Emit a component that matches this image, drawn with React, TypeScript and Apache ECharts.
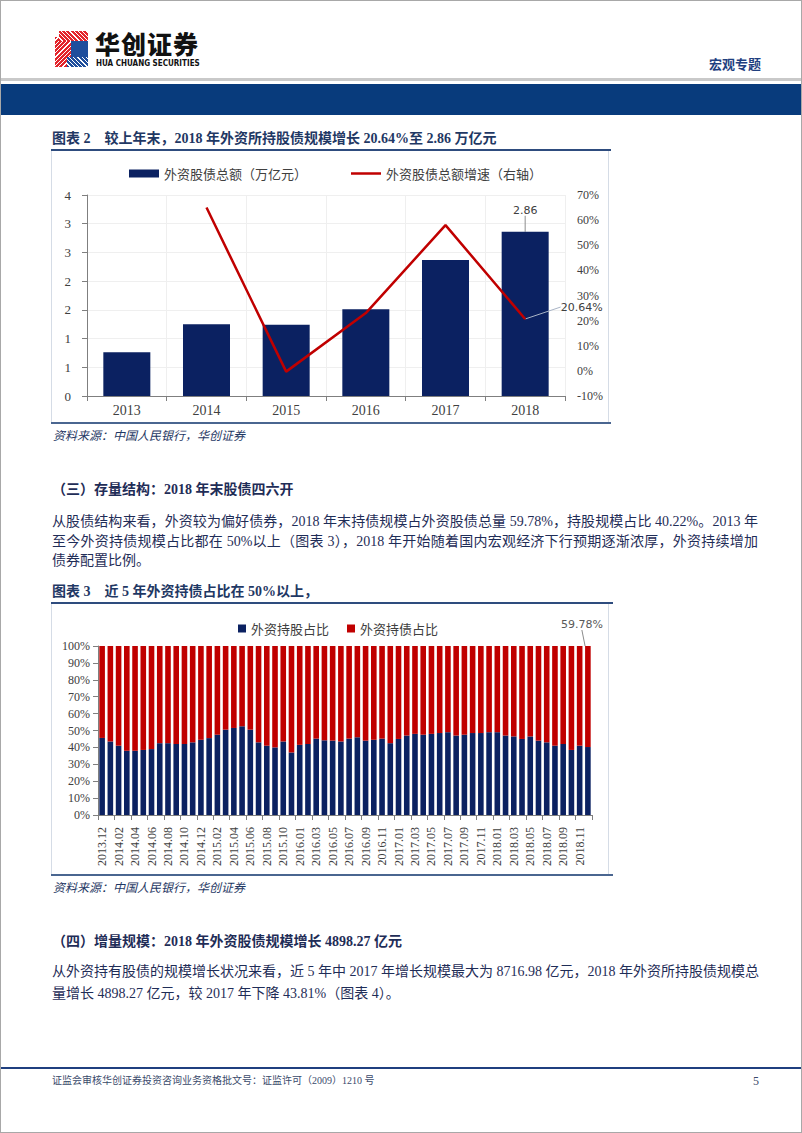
import React, { useEffect, useRef } from "react";
import * as echarts from "echarts";

// ---------- Data: 图表 2 ----------
const years = ["2013", "2014", "2015", "2016", "2017", "2018"];
const holdingsTotal = [0.76, 1.25, 1.24, 1.51, 2.37, 2.86]; // 外资股债总额（万亿元）
const holdingsGrowth = ["-", 65.0, -0.3, 23.0, 58.0, 20.64]; // 外资股债总额增速（%）

// ---------- Data: 图表 3 ----------
const months = [
  "2013.12",
  "2014.01", "2014.02", "2014.03", "2014.04", "2014.05", "2014.06",
  "2014.07", "2014.08", "2014.09", "2014.10", "2014.11", "2014.12",
  "2015.01", "2015.02", "2015.03", "2015.04", "2015.05", "2015.06",
  "2015.07", "2015.08", "2015.09", "2015.10", "2015.11",
  "2016.01", "2016.02", "2016.03", "2016.04", "2016.05", "2016.06",
  "2016.07", "2016.08", "2016.09", "2016.10", "2016.11", "2016.12",
  "2017.01", "2017.02", "2017.03", "2017.04", "2017.05", "2017.06",
  "2017.07", "2017.08", "2017.09", "2017.10", "2017.11", "2017.12",
  "2018.01", "2018.02", "2018.03", "2018.04", "2018.05", "2018.06",
  "2018.07", "2018.08", "2018.09", "2018.10", "2018.11", "2018.12",
];
const stockShare = [
  45.6, 43.5, 41.0, 38.0, 38.0, 38.5, 39.0, 42.5, 42.5, 42.0,
  42.0, 43.0, 44.5, 45.5, 47.5, 50.5, 51.5, 52.5, 50.5, 43.0,
  41.0, 40.0, 43.5, 37.0, 41.5, 42.0, 45.2, 44.2, 44.0, 43.5,
  45.2, 46.0, 44.0, 44.5, 45.2, 42.5, 45.0, 47.0, 48.0, 47.5,
  48.0, 48.5, 49.0, 47.0, 47.5, 48.5, 48.5, 49.0, 49.0, 47.0,
  46.5, 45.0, 46.5, 44.0, 43.0, 41.0, 42.0, 38.5, 41.0, 40.22,
];
const bondShare = [
  54.4, 56.5, 59.0, 62.0, 62.0, 61.5, 61.0, 57.5, 57.5, 58.0,
  58.0, 57.0, 55.5, 54.5, 52.5, 49.5, 48.5, 47.5, 49.5, 57.0,
  59.0, 60.0, 56.5, 63.0, 58.5, 58.0, 54.8, 55.8, 56.0, 56.5,
  54.8, 54.0, 56.0, 55.5, 54.8, 57.5, 55.0, 53.0, 52.0, 52.5,
  52.0, 51.5, 51.0, 53.0, 52.5, 51.5, 51.5, 51.0, 51.0, 53.0,
  53.5, 55.0, 53.5, 56.0, 57.0, 59.0, 58.0, 61.5, 59.0, 59.78,
];

// ---------- Styles ----------
const SERIF = "'Liberation Serif', 'Noto Sans CJK SC', serif";
const CJK = "'Noto Sans CJK SC', sans-serif";
const LABEL_SANS = "'DejaVu Sans', sans-serif";
const NAVY = "#0B2161";
const RED = "#C00000";
const TEXT = "#1F2D57";
const TITLE = "#1F3864";
const AXIS = "#7F7F7F";
const TICK_TEXT = "#404040";

function EChart({ option, style }: { option: any; style: React.CSSProperties }) {
  const ref = useRef<HTMLDivElement>(null);
  useEffect(() => {
    const chart = echarts.init(ref.current as HTMLDivElement, null, { renderer: "svg" });
    chart.setOption(option);
    return () => chart.dispose();
  }, []);
  return <div ref={ref} style={style} />;
}

const lastIdx = (arr: any[]) => arr.length - 1;

const option2 = {
  animation: false,
  textStyle: { fontFamily: SERIF },
  legend: {
    left: 72,
    top: 10,
    itemGap: 44,
    itemWidth: 30,
    itemHeight: 8,
    textStyle: { fontFamily: CJK, fontSize: 13, color: TICK_TEXT },
    data: [
      { name: "外资股债总额（万亿元）", icon: "rect" },
      { name: "外资股债总额增速（右轴）", icon: "path://M0,0H30V2.5H0Z" },
    ],
  },
  grid: { left: 35, right: 43, top: 43, bottom: 26 },
  xAxis: {
    type: "category",
    data: years,
    axisLine: { lineStyle: { color: AXIS } },
    axisTick: { show: true, lineStyle: { color: AXIS } },
    axisLabel: { fontFamily: SERIF, fontSize: 14, color: TICK_TEXT, margin: 7 },
    splitLine: { show: true, lineStyle: { color: "#EFEFEF" } },
  },
  yAxis: [
    {
      type: "value",
      min: 0,
      max: 3.5,
      interval: 0.5,
      axisLine: { show: true, lineStyle: { color: AXIS } },
      axisTick: { show: true, lineStyle: { color: AXIS } },
      axisLabel: {
        fontFamily: SERIF,
        fontSize: 13,
        color: TICK_TEXT,
        margin: 16,
        formatter: (v: number) => String(Math.round(v)),
      },
      splitLine: { show: true, lineStyle: { color: "#EFEFEF" } },
    },
    {
      type: "value",
      position: "right",
      min: -10,
      max: 70,
      interval: 10,
      axisLine: { show: false },
      axisTick: { show: false },
      axisLabel: { fontFamily: SERIF, fontSize: 12, color: TICK_TEXT, margin: 12, formatter: "{value}%" },
      splitLine: { show: false },
    },
  ],
  series: [
    {
      name: "外资股债总额（万亿元）",
      type: "bar",
      barWidth: "59%",
      itemStyle: { color: NAVY },
      data: holdingsTotal.map((v, i) =>
        i === lastIdx(holdingsTotal) ? { value: v, label: { show: true } } : v
      ),
      label: {
        show: false,
        position: "top",
        distance: 4,
        fontFamily: LABEL_SANS,
        fontSize: 11,
        color: TICK_TEXT,
      },
      labelLayout: { dy: -12 },
      labelLine: { show: true, lineStyle: { color: "#8C8C8C", width: 1 } },
    },
    {
      name: "外资股债总额增速（右轴）",
      type: "line",
      yAxisIndex: 1,
      symbol: "none",
      lineStyle: { color: RED, width: 2.5 },
      itemStyle: { color: RED },
      data: holdingsGrowth.map((v, i) =>
        i === lastIdx(holdingsGrowth)
          ? { value: v, symbol: "circle", symbolSize: 1, label: { show: true } }
          : v
      ),
      label: {
        show: false,
        position: "right",
        fontFamily: LABEL_SANS,
        fontSize: 11,
        color: TICK_TEXT,
        formatter: "{c}%",
      },
      labelLayout: { dx: 30, dy: -12 },
      labelLine: { show: true, lineStyle: { color: "#A9B4C6", width: 1 } },
    },
  ],
};

const option3 = {
  animation: false,
  textStyle: { fontFamily: SERIF },
  legend: {
    left: 181,
    top: 12,
    itemWidth: 8,
    itemHeight: 8,
    itemGap: 18,
    textStyle: { fontFamily: CJK, fontSize: 13, color: TICK_TEXT },
    data: [
      { name: "外资持股占比", icon: "rect" },
      { name: "外资持债占比", icon: "rect" },
    ],
  },
  grid: { left: 46, right: 16, top: 41, bottom: 58 },
  xAxis: {
    type: "category",
    data: months,
    axisLine: { lineStyle: { color: AXIS } },
    axisTick: { show: true, interval: 1, lineStyle: { color: AXIS } },
    axisLabel: { interval: 1, rotate: 90, fontFamily: SERIF, fontSize: 12, color: TICK_TEXT, margin: 12 },
  },
  yAxis: {
    type: "value",
    min: 0,
    max: 100,
    interval: 10,
    axisLine: { show: true, lineStyle: { color: AXIS } },
    axisTick: { show: true, lineStyle: { color: AXIS } },
    axisLabel: { fontFamily: SERIF, fontSize: 12, color: TICK_TEXT, margin: 8, formatter: "{value}%" },
    splitLine: { show: false },
  },
  series: [
    {
      name: "外资持股占比",
      type: "bar",
      stack: "share",
      barCategoryGap: "32%",
      itemStyle: { color: NAVY },
      data: stockShare,
    },
    {
      name: "外资持债占比",
      type: "bar",
      stack: "share",
      barCategoryGap: "32%",
      itemStyle: { color: RED },
      data: bondShare.map((v, i) =>
        i === lastIdx(bondShare) ? { value: v, label: { show: true } } : v
      ),
      label: {
        show: false,
        position: "top",
        fontFamily: LABEL_SANS,
        fontSize: 11,
        color: "#595959",
        formatter: "{c}%",
      },
      labelLayout: { dx: -6, dy: -11 },
      labelLine: { show: true, lineStyle: { color: "#8C8C8C", width: 1 } },
    },
  ],
};

function T({
  x, y, size = 14, bold = false, italic = false, color = TEXT, width, justify = false, family = SERIF, children,
}: any) {
  return (
    <div
      style={{
        position: "absolute",
        left: x,
        top: y - size / 2,
        fontSize: size,
        lineHeight: `${size}px`,
        fontWeight: bold ? 700 : 400,
        fontStyle: italic ? "italic" : "normal",
        color,
        fontFamily: family,
        whiteSpace: "nowrap",
        width: width,
        textAlign: justify ? "justify" : "left",
        textAlignLast: justify ? "justify" : "auto",
      } as React.CSSProperties}
    >
      {children}
    </div>
  );
}

function Rule({ x, y, w, h, color }: any) {
  return <div style={{ position: "absolute", left: x, top: y, width: w, height: h, background: color }} />;
}

export default function App() {
  return (
    <div
      style={{
        position: "absolute",
        left: 0,
        top: 0,
        width: 802,
        height: 1133,
        background: "#fff",
        overflow: "hidden",
        boxSizing: "border-box",
        border: "1px solid #A8A8A8",
        fontFamily: SERIF,
      }}
    >
      {/* Header logo */}
      <div
        style={{
          position: "absolute", left: 54, top: 36, width: 18, height: 30,
          background: "repeating-linear-gradient(135deg, #E3242B 0px, #E3242B 2px, #ffffff 2px, #ffffff 3px)",
        }}
      />
      <div style={{ position: "absolute", left: 58, top: 30, width: 29, height: 10, background: "repeating-linear-gradient(45deg, #E3242B 0px, #E3242B 2px, #ffffff 2px, #ffffff 3px)" }} />
      <div style={{ position: "absolute", left: 70, top: 40, width: 17, height: 16, background: "#1E4E9C" }} />
      <div style={{ position: "absolute", left: 66, top: 56, width: 21, height: 10, background: "repeating-linear-gradient(45deg, #1E4E9C 0px, #1E4E9C 2px, #ffffff 2px, #ffffff 3px)" }} />
      <div
        style={{
          position: "absolute", left: 94, top: 30, fontSize: 25, lineHeight: "25px",
          fontFamily: CJK, fontWeight: 900, color: "#111", letterSpacing: 1,
        }}
      >
        华创证券
      </div>
      <div
        style={{
          position: "absolute", left: 95, top: 59, fontSize: 8, lineHeight: "8px",
          fontFamily: "'DejaVu Sans Condensed', 'DejaVu Sans', sans-serif", fontWeight: 700, color: "#111",
        }}
      >
        HUA CHUANG SECURITIES
      </div>
      <T x={708} y={62} size={13} bold color="#1F3F7F" family={CJK}>宏观专题</T>
      <Rule x={0} y={77} w={802} h={3} color="#C9C9C9" />
      <Rule x={0} y={83} w={802} h={31} color="#083B7C" />

      {/* 图表 2 */}
      <T x={51} y={138} size={14} bold color={TITLE}>
        图表 2<span style={{ display: "inline-block", width: 14 }} />较上年末，2018 年外资所持股债规模增长 20.64%至 2.86 万亿元
      </T>
      <Rule x={50} y={148} w={560} h={2} color="#2E4C7E" />
      <div style={{ position: "absolute", left: 50, top: 150, width: 558, height: 271, boxSizing: "border-box", border: "1px solid #D5DCE6", borderTop: "none", borderBottom: "none" }} />
      <EChart option={option2} style={{ position: "absolute", left: 51, top: 151, width: 556, height: 270 }} />
      <Rule x={50} y={421} w={560} h={2} color="#4A6690" />
      <T x={52} y={434} size={12} italic color={TITLE} family={CJK}>资料来源：中国人民银行，华创证券</T>

      {/* (三) */}
      <T x={51} y={489} size={14} bold>（三）存量结构：2018 年末股债四六开</T>
      <T x={51} y={521} size={14} width={706} justify>
        从股债结构来看，外资较为偏好债券，2018 年末持债规模占外资股债总量 59.78%，持股规模占比 40.22%。2013 年
      </T>
      <T x={51} y={541} size={14} width={706} justify>
        至今外资持债规模占比都在 50%以上（图表 3），2018 年开始随着国内宏观经济下行预期逐渐浓厚，外资持续增加
      </T>
      <T x={51} y={560} size={14}>债券配置比例。</T>

      {/* 图表 3 */}
      <T x={51} y={591} size={14} bold color={TITLE}>
        图表 3<span style={{ display: "inline-block", width: 14 }} />近 5 年外资持债占比在 50%以上，
      </T>
      <Rule x={50} y={601} w={562} h={2} color="#2E4C7E" />
      <div style={{ position: "absolute", left: 50, top: 603, width: 558, height: 270, boxSizing: "border-box", border: "1px solid #D5DCE6", borderTop: "none", borderBottom: "none" }} />
      <EChart option={option3} style={{ position: "absolute", left: 51, top: 604, width: 556, height: 268 }} />
      <Rule x={50} y={873} w={562} h={2} color="#4A6690" />
      <T x={52} y={886} size={12} italic color={TITLE} family={CJK}>资料来源：中国人民银行，华创证券</T>

      {/* (四) */}
      <T x={51} y={941} size={14} bold>（四）增量规模：2018 年外资股债规模增长 4898.27 亿元</T>
      <T x={51} y={971} size={14} width={706} justify>
        从外资持有股债的规模增长状况来看，近 5 年中 2017 年增长规模最大为 8716.98 亿元，2018 年外资所持股债规模总
      </T>
      <T x={51} y={993} size={14}>量增长 4898.27 亿元，较 2017 年下降 43.81%（图表 4）。</T>

      {/* Footer */}
      <Rule x={0} y={1066} w={802} h={2} color="#1F3F7F" />
      <T x={51} y={1080} size={10} color="#3A4A6B">证监会审核华创证券投资咨询业务资格批文号：证监许可（2009）1210 号</T>
      <T x={752} y={1080} size={12} color="#3A4A6B">5</T>
    </div>
  );
}
